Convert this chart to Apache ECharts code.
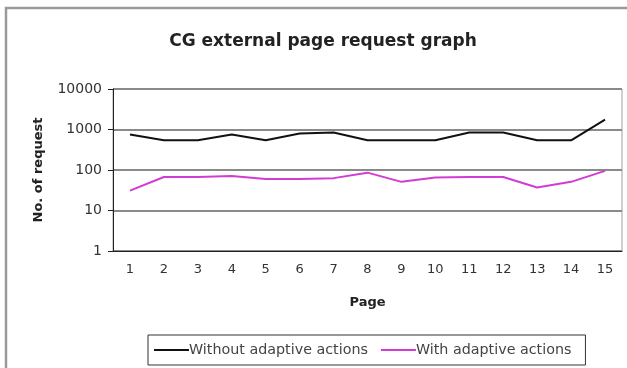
<!DOCTYPE html>
<html>
<head>
<meta charset="utf-8">
<script src="https://cdn.jsdelivr.net/npm/echarts@6/dist/echarts.min.js"></script>
<style>
html,body{margin:0;padding:0;background:#fff;}
#c{width:627px;height:368px;}
</style>
</head>
<body>
<div id="c"></div>
<script>
var pages = ['1','2','3','4','5','6','7','8','9','10','11','12','13','14','15'];
var withoutAdaptive = [750, 540, 540, 750, 540, 800, 840, 540, 540, 540, 840, 840, 540, 540, 1750];
var withAdaptive = [31, 67, 67, 71, 60, 60, 63, 86, 51, 65, 67, 67, 37, 51, 95];
var seriesNames = ['Without adaptive actions', 'With adaptive actions'];

var chart = echarts.init(document.getElementById('c'));
var font = 'DejaVu Sans, sans-serif';
chart.setOption({
  backgroundColor: '#fff',
  animation: false,
  graphic: [{
    type: 'rect',
    shape: {x: 6, y: 8, width: 640, height: 380},
    style: {fill: 'none', stroke: '#9a9a9a', lineWidth: 2.5}
  }],
  title: {
    text: 'CG external page request graph',
    left: 318, top: 28, textAlign: 'center',
    textStyle: {fontFamily: font, fontSize: 17, fontWeight: 'bold', color: '#222'}
  },
  grid: {left: 113, right: 5, top: 89, bottom: 117, show: true, borderColor: '#a0a0a0', borderWidth: 1},
  legend: {
    data: seriesNames,
    left: 148, top: 335,
    padding: [8, 14, 8, 6],
    borderColor: '#333', borderWidth: 1,
    icon: 'rect', itemWidth: 35, itemHeight: 2, itemGap: 13,
    textStyle: {fontFamily: font, fontSize: 14.3, color: '#444', padding: [0,0,0,-5]}
  },
  xAxis: {
    type: 'category', data: pages, boundaryGap: true,
    name: 'Page', nameLocation: 'middle', nameGap: 45,
    nameTextStyle: {fontFamily: font, fontSize: 13, fontWeight: 'bold', color: '#222'},
    axisLine: {lineStyle: {color: '#222', width: 1}},
    axisTick: {length: 4, lineStyle: {color: '#222'}},
    axisLabel: {fontFamily: font, fontSize: 13, color: '#333', margin: 12}
  },
  yAxis: {
    type: 'log', logBase: 10, min: 1, max: 10000,
    name: 'No. of request', nameLocation: 'middle', nameGap: 68, nameRotate: 90,
    nameTextStyle: {fontFamily: font, fontSize: 13, fontWeight: 'bold', color: '#222'},
    axisLine: {show: true, lineStyle: {color: '#222', width: 1}},
    axisTick: {show: true, length: 5, lineStyle: {color: '#222'}},
    axisLabel: {fontFamily: font, fontSize: 14, color: '#333', margin: 11,
      formatter: function (v) { return String(Math.round(v)); }},
    splitLine: {show: true, lineStyle: {color: '#8a8a8a', width: 2}},
    minorTick: {show: false}
  },
  series: [{
    name: seriesNames[0], type: 'line', data: withoutAdaptive,
    symbol: 'none', lineStyle: {color: '#111', width: 2}, itemStyle: {color: '#111'}
  }, {
    name: seriesNames[1], type: 'line', data: withAdaptive,
    symbol: 'none', lineStyle: {color: '#d23cd2', width: 2}, itemStyle: {color: '#d23cd2'}
  }]
});
</script>
</body>
</html>
